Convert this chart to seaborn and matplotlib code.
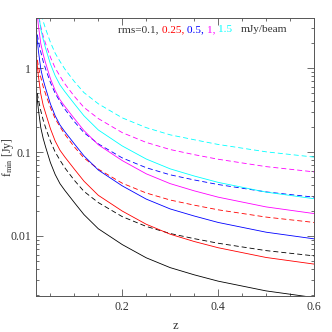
import matplotlib
matplotlib.use("Agg")
import matplotlib.pyplot as plt
import numpy as np
import pandas as pd
import seaborn as sns
from matplotlib.ticker import MultipleLocator, LogLocator, NullFormatter, FuncFormatter
from matplotlib.offsetbox import TextArea, HPacker, AnchoredOffsetbox

# ---------------- data ----------------
z = [0.02, 0.025, 0.03, 0.035, 0.04, 0.05, 0.06, 0.07, 0.08, 0.10,
     0.12, 0.15, 0.20, 0.25, 0.30, 0.35, 0.40, 0.50, 0.60]

rms_levels = [0.1, 0.25, 0.5, 1, 1.5]
rms_labels = ["0.1", "0.25", "0.5", "1", "1.5"]
colors = ["black", "red", "blue", "magenta", "cyan"]

# solid curves, f_min [Jy]
solid_01 = [0.60, 0.32, 0.195, 0.145, 0.115, 0.075, 0.054, 0.042, 0.035, 0.025,
            0.018, 0.0122, 0.0079, 0.0055, 0.0042, 0.00345, 0.0029, 0.00222, 0.00185]
solid_025 = [1.5, 0.80, 0.49, 0.36, 0.29, 0.19, 0.135, 0.105, 0.0875, 0.0625,
             0.045, 0.0305, 0.0198, 0.0138, 0.0105, 0.0086, 0.00725, 0.00555, 0.00463]
solid_05 = [3.0, 1.6, 0.975, 0.725, 0.575, 0.375, 0.27, 0.21, 0.175, 0.125,
            0.090, 0.061, 0.0395, 0.0275, 0.021, 0.0173, 0.0145, 0.0111, 0.00925]
solid_1 = [6.0, 3.2, 1.95, 1.45, 1.15, 0.75, 0.54, 0.42, 0.35, 0.25,
           0.18, 0.122, 0.079, 0.055, 0.042, 0.0345, 0.029, 0.0222, 0.0185]
solid_15 = [9.0, 4.8, 2.9, 2.2, 1.72, 1.12, 0.81, 0.63, 0.525, 0.375,
            0.27, 0.183, 0.118, 0.0825, 0.063, 0.0518, 0.0435, 0.0333, 0.0278]

# dashed curves, f_min [Jy]
dashed_01 = [0.62, 0.42, 0.31, 0.24, 0.195, 0.135, 0.10, 0.080, 0.065, 0.046,
             0.034, 0.025, 0.017, 0.013, 0.0107, 0.0093, 0.0082, 0.0067, 0.0058]
dashed_025 = [1.55, 1.05, 0.775, 0.60, 0.49, 0.34, 0.25, 0.20, 0.163, 0.115,
              0.085, 0.0625, 0.0425, 0.0325, 0.0268, 0.0233, 0.0205, 0.0168, 0.0145]
dashed_05 = [3.1, 2.1, 1.55, 1.2, 0.975, 0.675, 0.50, 0.40, 0.325, 0.23,
             0.17, 0.125, 0.085, 0.065, 0.0535, 0.0465, 0.041, 0.0335, 0.029]
dashed_1 = [6.2, 4.2, 3.1, 2.4, 1.95, 1.35, 1.0, 0.80, 0.65, 0.46,
            0.34, 0.25, 0.17, 0.13, 0.107, 0.093, 0.082, 0.067, 0.058]
dashed_15 = [9.3, 6.3, 4.65, 3.6, 2.93, 2.03, 1.5, 1.2, 0.975, 0.69,
             0.51, 0.375, 0.255, 0.195, 0.16, 0.14, 0.123, 0.1005, 0.087]

solid_series = [solid_01, solid_025, solid_05, solid_1, solid_15]
dashed_series = [dashed_01, dashed_025, dashed_05, dashed_1, dashed_15]

x_ticks = [0.2, 0.4, 0.6]
y_ticks = [0.01, 0.1, 1]

# ---------------- build long table ----------------
rows = []
for lab, s, d in zip(rms_labels, solid_series, dashed_series):
    for zi, v in zip(z, s):
        rows.append({"z": zi, "f": v, "rms": lab, "kind": "solid"})
    for zi, v in zip(z, d):
        rows.append({"z": zi, "f": v, "rms": lab, "kind": "dashed"})
df = pd.DataFrame(rows)

# ---------------- plot ----------------
sns.set_theme(style="ticks")
plt.rcParams["font.family"] = ["Liberation Serif", "DejaVu Serif"]
plt.rcParams["mathtext.fontset"] = "stix"

fig = plt.figure(figsize=(3.32, 3.32), dpi=100)
ax = fig.add_axes([36 / 332, 36 / 332, 278 / 332, 278 / 332])

palette = dict(zip(rms_labels, colors))
sns.lineplot(data=df, x="z", y="f", hue="rms", style="kind",
             palette=palette, hue_order=rms_labels,
             dashes={"solid": "", "dashed": (6, 3.6)},
             style_order=["solid", "dashed"],
             estimator=None, sort=False, legend=False,
             linewidth=0.6, ax=ax)

ax.set_yscale("log")
ax.set_xlim(0.02, 0.6)
ax.set_ylim(0.00193, 3.94)

ax.set_xticks(x_ticks)
ax.set_xticklabels([f"{t:g}" for t in x_ticks])
ax.xaxis.set_minor_locator(MultipleLocator(0.05))
ax.set_yticks(y_ticks)
ax.yaxis.set_major_formatter(FuncFormatter(lambda v, p: f"{v:g}"))
ax.yaxis.set_minor_locator(LogLocator(base=10, subs=np.arange(2, 10)))
ax.yaxis.set_minor_formatter(NullFormatter())

axcol = "#555555"
for sp in ax.spines.values():
    sp.set_color(axcol)
    sp.set_linewidth(0.7)
ax.tick_params(which="both", direction="in", top=True, right=True,
               color=axcol, width=0.6, labelsize=8.5, labelcolor="#333333")
ax.tick_params(which="major", length=5, pad=3.5)
ax.tick_params(which="minor", length=2.5)

ax.set_xlabel("z", fontsize=9, color="#333333")
ax.xaxis.set_label_coords(0.5, -0.085)
ax.set_ylabel(r"f$_{\rm min}$ [Jy]", fontsize=8.5, color="#333333")
ax.yaxis.set_label_coords(-0.072, 0.5)

# coloured annotation
fs = 8.1
parts = [TextArea("rms=0.1, ", textprops=dict(color="#333333", fontsize=fs))]
for lab, c in zip(rms_labels[1:], colors[1:]):
    sep = ", " if lab != rms_labels[-1] else "   "
    parts.append(TextArea(lab + sep, textprops=dict(color=c, fontsize=fs)))
parts.append(TextArea("mJy/beam", textprops=dict(color="#333333", fontsize=fs)))
box = HPacker(children=parts, align="baseline", pad=0, sep=0)
anch = AnchoredOffsetbox(loc="upper right", child=box, pad=0, frameon=False,
                         bbox_to_anchor=(0.905, 0.975), bbox_transform=ax.transAxes,
                         borderpad=0)
ax.add_artist(anch)

fig.savefig("out.png", dpi=100)
